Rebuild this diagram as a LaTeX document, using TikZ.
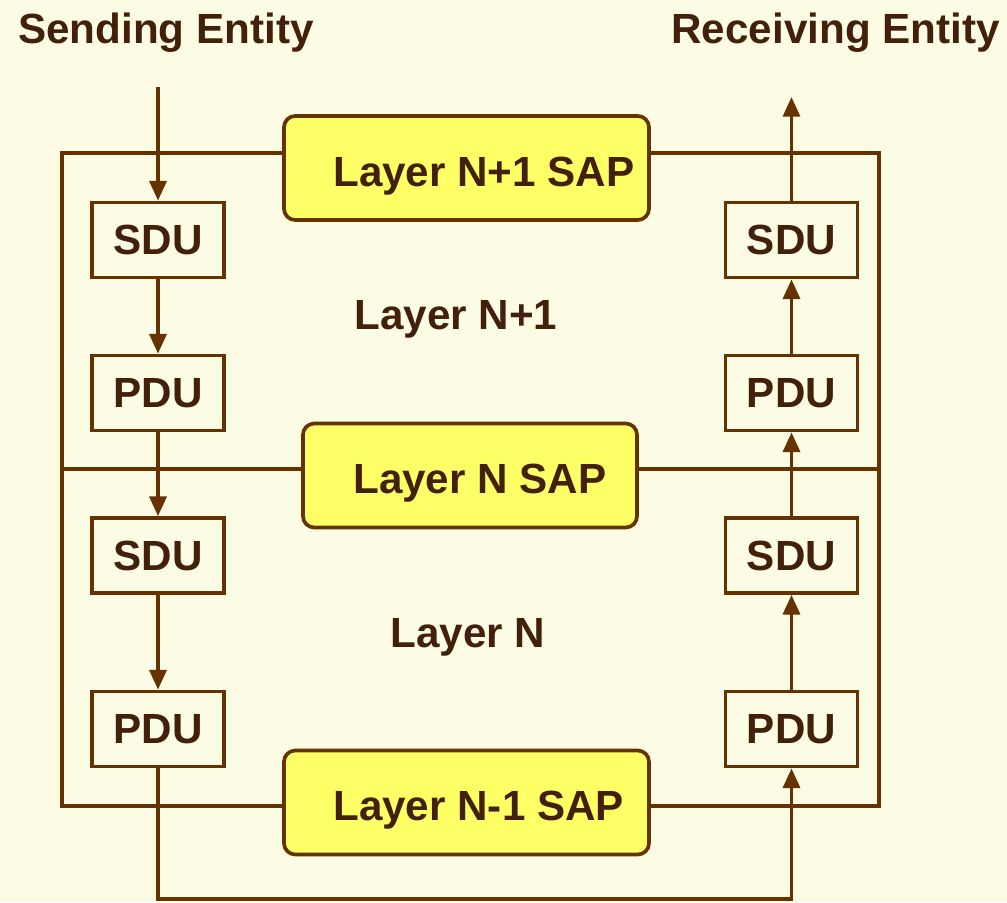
\documentclass[tikz,border=0pt]{standalone}
\usepackage{fontspec}
\setmainfont{Liberation Sans}
\usetikzlibrary{arrows.meta,positioning}
\definecolor{bgcol}{HTML}{FCFBE4}
\definecolor{linecol}{HTML}{663300}
\definecolor{textcol}{HTML}{42200A}
\definecolor{sapcol}{HTML}{FFFF66}
\newlength\px
\setlength\px{0.025cm}
\tikzset{
  lbl/.style={inner sep=0pt, text=textcol, font=\fontsize{30}{34}\selectfont\bfseries},
  unitbox/.style={draw=linecol, line width=2.6pt, minimum width=132\px, minimum height=75\px,
    inner sep=0pt, text=textcol, font=\fontsize{30}{34}\selectfont\bfseries},
  sapbox/.style={draw=linecol, fill=sapcol, line width=2.6pt, rounded corners=8pt,
    minimum height=104\px, inner sep=0pt},
  flow/.style={draw=linecol, line width=2.6pt, -{Triangle[length=14pt,width=12pt]}},
  frame/.style={draw=linecol, line width=2.6pt}
}
\begin{document}
\begin{tikzpicture}[x=\px, y=-\px]
  \fill[bgcol] (0,0) rectangle (1007,902);
  \useasboundingbox (0,0) rectangle (1007,902);

  \node[lbl, anchor=base west] (send) at (18,43) {Sending Entity};
  \node[lbl, anchor=base east] (recv) at (1000,43) {Receiving Entity};

  % service access points
  \node[sapbox, minimum width=365\px] (sapA) at (466.5,168) {};
  \node[sapbox, minimum width=334\px] (sapB) at (470,475.5) {};
  \node[sapbox, minimum width=365\px] (sapC) at (466.5,802.5) {};
  \node[lbl, anchor=base west] (sapAt) at (333,186) {Layer N+1 SAP};
  \node[lbl, anchor=base west] (sapBt) at (353,493) {Layer N SAP};
  \node[lbl, anchor=base west] (sapCt) at (333,820) {Layer N-1 SAP};

  % layer frame
  \coordinate (TL) at (62,153);
  \coordinate (TR) at (879,153);
  \coordinate (ML) at (62,469);
  \coordinate (MR) at (879,469);
  \coordinate (BL) at (62,806);
  \coordinate (BR) at (879,806);
  \draw[frame] (sapA.west |- TL) -- (TL) -- (BL) -- (sapC.west |- BL);
  \draw[frame] (sapA.east |- TR) -- (TR) -- (BR) -- (sapC.east |- BR);
  \draw[frame] (ML) -- (sapB.west |- ML);
  \draw[frame] (sapB.east |- MR) -- (MR);

  \node[lbl, anchor=base] (layA) at (456,329) {Layer N+1};
  \node[lbl, anchor=base] (layB) at (468,647) {Layer N};

  % sending side
  \node[unitbox] (lsA) at (158,240) {SDU};
  \node[unitbox] (lpA) at (158,393) {PDU};
  \node[unitbox] (lsB) at (158,555.5) {SDU};
  \node[unitbox] (lpB) at (158,729) {PDU};
  % receiving side
  \node[unitbox] (rsA) at (791.5,240) {SDU};
  \node[unitbox] (rpA) at (791.5,393) {PDU};
  \node[unitbox] (rsB) at (791.5,555.5) {SDU};
  \node[unitbox] (rpB) at (791.5,729) {PDU};

  \coordinate (in) at (158,87);
  \coordinate (out) at (791.5,97);
  \coordinate (lowL) at (158,899);
  \coordinate (lowR) at (791.5,899);

  \draw[flow] (in) -- (lsA);
  \draw[flow] (lsA) -- (lpA);
  \draw[flow] (lpA) -- (lsB);
  \draw[flow] (lsB) -- (lpB);
  \draw[flow] (lpB.south) -- (lowL) -- (lowR) -- (rpB.south);
  \draw[flow] (rpB) -- (rsB);
  \draw[flow] (rsB) -- (rpA);
  \draw[flow] (rpA) -- (rsA);
  \draw[flow] (rsA) -- (out);
\end{tikzpicture}
\end{document}
